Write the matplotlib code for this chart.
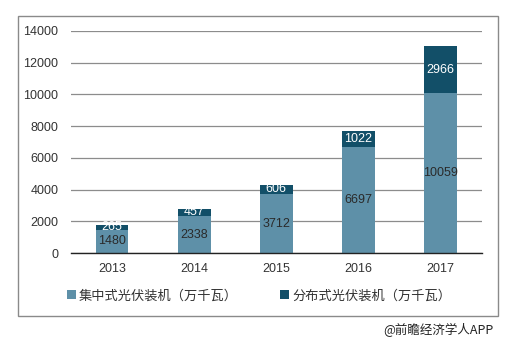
import numpy as np
import matplotlib.pyplot as plt
from matplotlib.patches import Rectangle

plt.rcParams['font.family'] = ['Liberation Sans', 'Noto Sans CJK SC', 'DejaVu Sans']

years = ['2013', '2014', '2015', '2016', '2017']
central = [1480, 2338, 3712, 6697, 10059]
distributed = [265, 457, 606, 1022, 2966]
labels = ['集中式光伏装机（万千瓦）', '分布式光伏装机（万千瓦）']

c_low = '#5e90a8'
c_top = '#124f68'

fig = plt.figure(figsize=(5.18, 3.51), dpi=100)
fig.patches.append(Rectangle((0.035, 0.1), 0.927, 0.855, transform=fig.transFigure,
                             fill=False, edgecolor='#8a8a8a', lw=1.0))
ax = fig.add_axes([0.137, 0.279, 0.793, 0.633])

x = np.arange(len(years))
w = 0.4
b1 = ax.bar(x, central, w, color=c_low, label=labels[0], zorder=3)
b2 = ax.bar(x, distributed, w, bottom=central, color=c_top, label=labels[1], zorder=3)

for i in range(len(years)):
    ax.text(x[i], central[i] / 2, str(central[i]), ha='center', va='center',
            fontsize=9, color='#2a2a2a', zorder=4)
    ax.text(x[i], central[i] + distributed[i] / 2, str(distributed[i]), ha='center',
            va='center', fontsize=9, color='white', zorder=4)

ax.set_ylim(0, 14000)
ax.set_yticks(range(0, 14001, 2000))
ax.set_xlim(-0.5, 4.5)
ax.set_xticks(x)
ax.set_xticklabels(years)
ax.tick_params(axis='both', length=0, labelsize=9, colors='#333333')
ax.tick_params(axis='y', pad=9)
ax.tick_params(axis='x', pad=7)
ax.yaxis.grid(True, color='#8c8c8c', lw=0.9, zorder=0)
for s in ['top', 'right', 'left']:
    ax.spines[s].set_visible(False)
ax.spines['bottom'].set_color('#222222')
ax.spines['bottom'].set_linewidth(1.0)
ax.spines['bottom'].set_zorder(5)

fig.legend(handles=[b1, b2], labels=labels, loc='center', bbox_to_anchor=(0.5, 0.157),
           ncol=2, frameon=False, handlelength=0.7, handleheight=0.7,
           handletextpad=0.2, columnspacing=3.2,
           prop={'family': ['Noto Sans CJK SC'], 'size': 9.5}, labelcolor='#333333')

fig.text(0.952, 0.06, '@前瞻经济学人APP', ha='right', va='center', fontsize=9,
         color='#222222', family=['Noto Sans CJK SC'])

fig.savefig('out.png', dpi=100)
